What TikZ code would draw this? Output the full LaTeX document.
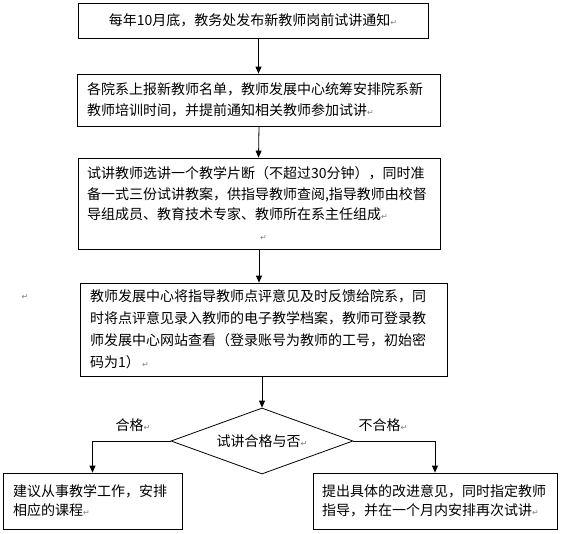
\documentclass[tikz,border=0pt]{standalone}
\usepackage{fontspec}
\setmainfont{Noto Sans CJK SC}
\newfontfamily\dejavu{DejaVu Sans}
\usetikzlibrary{arrows.meta,shapes.geometric}
\newcommand\retmark{{\dejavu\fontsize{8}{8}\selectfont\textcolor{gray}{↵}}}
\begin{document}
\begin{tikzpicture}[x=1pt,y=-1pt,
  box/.style={draw,line width=0.8pt,inner sep=0pt,font=\fontsize{14}{20.5}\selectfont},
  lbl/.style={inner sep=0pt,font=\fontsize{14}{16}\selectfont},
  arr/.style={draw,line width=0.8pt,-{Triangle[width=6pt,length=7pt]}}]
\useasboundingbox (0,0) rectangle (562,533);
\node[box,minimum width=350pt,minimum height=35pt,align=center] (b1) at (253,20.5)
  {每年10月底，教务处发布新教师岗前试讲通知\retmark};
\node[box,minimum width=363pt,minimum height=52pt,text width=343pt,align=left] (b2) at (258.5,100)
  {各院系上报新教师名单，教师发展中心统筹安排院系新\\教师培训时间，并提前通知相关教师参加试讲\retmark};
\node[box,minimum width=362pt,minimum height=91pt,text width=344pt,align=left] (b3) at (259,203.5)
  {试讲教师选讲一个教学片断（不超过30分钟），同时准\\备一式三份试讲教案，供指导教师查阅,指导教师由校督\\导组成员、教育技术专家、教师所在系主任组成\retmark\\\hspace*{173pt}\retmark};
\node[box,minimum width=367pt,minimum height=93pt,text width=347pt,align=left,
  font=\fontsize{14}{22}\selectfont] (b4) at (263.5,329.5)
  {教师发展中心将指导教师点评意见及时反馈给院系，同\\时将点评意见录入教师的电子教学档案，教师可登录教\\师发展中心网站查看（登录账号为教师的工号，初始密\\码为1）\,\retmark};
\node[draw,line width=0.8pt,diamond,aspect=2.76,inner sep=0pt,minimum width=182pt,minimum height=66pt,
  font=\fontsize{14}{16}\selectfont] (dia) at (262,441) {试讲合格与否\retmark};
\node[box,minimum width=179pt,minimum height=56pt,text width=159pt,align=left,
  font=\fontsize{14}{19}\selectfont] (ok) at (92.5,501)
  {建议从事教学工作，安排\\相应的课程\retmark};
\node[box,minimum width=244pt,minimum height=56pt,text width=226pt,align=left,
  font=\fontsize{14}{19}\selectfont] (no) at (435,501)
  {提出具体的改进意见，同时指定教师\\指导，并在一个月内安排再次试讲\retmark};
\node[lbl] (pass) at (133,425) {合格\retmark};
\node[lbl] (fail) at (383,425) {不合格\retmark};
\node[inner sep=0pt] (stray) at (25,297) {\retmark};
\draw[arr] (b2.north |- b1.south) -- (b2.north);
\draw[arr] (b3.north |- b2.south) -- (b3.north -| b2.north);
\draw[arr] (b3.south) -- (b3.south |- b4.north);
\draw[arr] (dia.north |- b4.south) -- (dia.north);
\draw[arr] (dia.west) -| (ok.north);
\draw[arr] (dia.east) -| (no.north);
\end{tikzpicture}
\end{document}
